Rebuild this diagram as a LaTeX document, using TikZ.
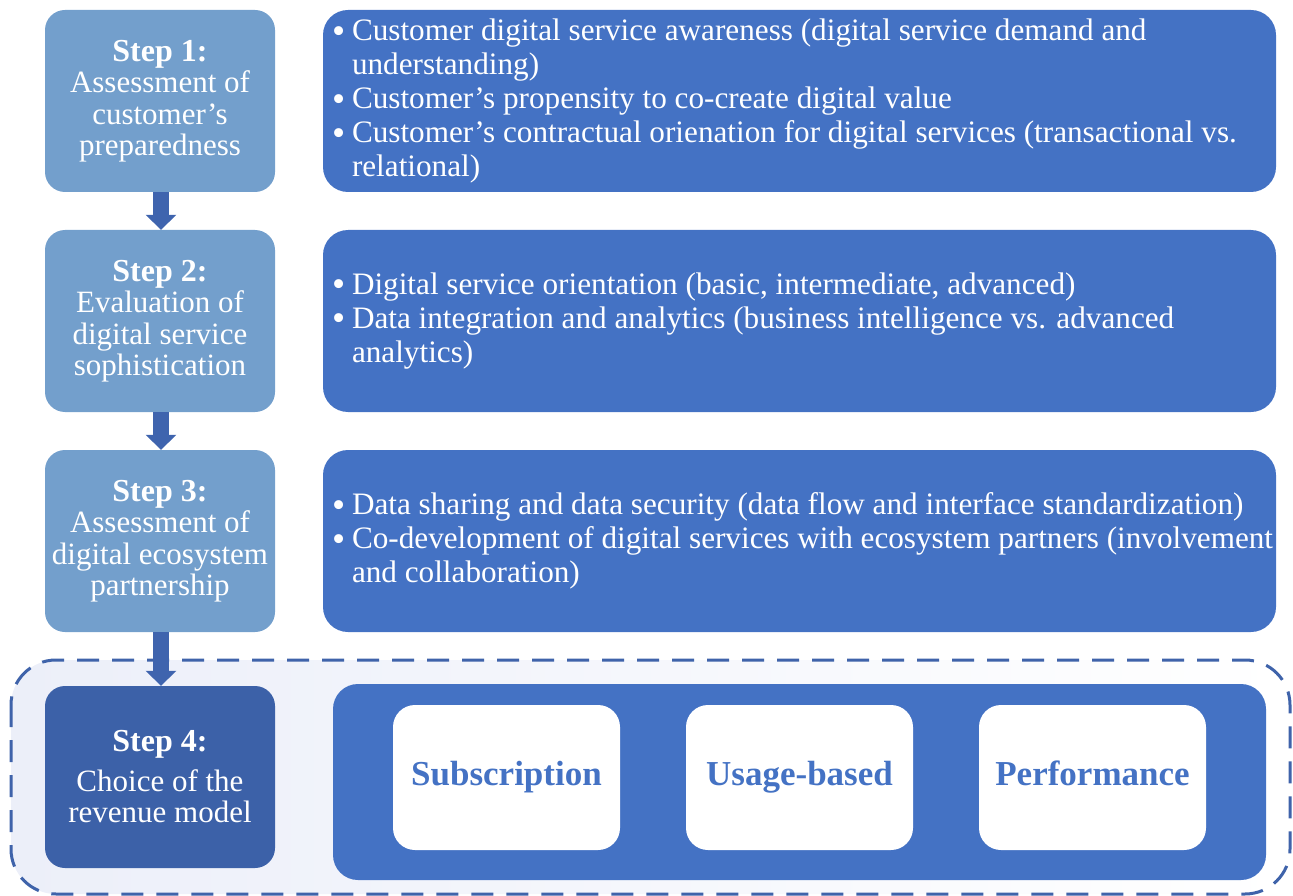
\documentclass[tikz,border=0pt]{standalone}
\usepackage{fontspec}
\setmainfont{Liberation Serif}
\usetikzlibrary{arrows.meta,shadings}
\definecolor{lightstep}{RGB}{115,159,204}
\definecolor{mainblue}{RGB}{68,114,196}
\definecolor{darkstep}{RGB}{60,97,168}
\definecolor{arrowblue}{RGB}{63,100,174}
\definecolor{dashblue}{RGB}{63,99,170}
\definecolor{lav}{RGB}{236,239,249}
\newcommand{\bul}{\makebox[20pt][l]{\raisebox{-2.5pt}{\scalebox{1.2}{\textbullet}}}}
\newcommand{\hang}{\hspace*{20pt}}
\newcommand{\steplbl}[1]{{\bfseries\fontsize{32}{32}\selectfont #1}}
\tikzset{
  stepbox/.style={rounded corners=20pt, fill=lightstep, minimum width=230pt, minimum height=182pt, inner sep=0pt, text=white, align=center, font=\fontsize{31}{31.5}\selectfont},
  infobox/.style={rounded corners=25pt, fill=mainblue, minimum width=953pt, minimum height=182pt, inner sep=0pt},
  bodytext/.style={text=white, align=left, inner sep=0pt, font=\fontsize{31.2}{34}\selectfont},
  modelbox/.style={rounded corners=22pt, fill=white, minimum width=227pt, minimum height=145pt, inner sep=0pt, text=mainblue, text height=24pt, text depth=8pt, font=\bfseries\fontsize{35}{36}\selectfont},
  flowarrow/.style={draw=arrowblue, line width=16pt, -{Triangle[width=30pt,length=15pt]}}
}
\begin{document}
\begin{tikzpicture}[x=1pt,y=-1pt]
\useasboundingbox (0,0) rectangle (1293,896);
% dashed container
\draw[dashblue, line width=3pt, dash pattern=on 22pt off 13pt, rounded corners=45pt, left color=lav, right color=white] (11,660) rectangle (1290,894);
% step boxes
\node[stepbox] (s1) at (160,101) {\steplbl{Step 1:}\\Assessment of\\customer’s\\preparedness};
\node[stepbox] (s2) at (160,321) {\steplbl{Step 2:}\\Evaluation of\\digital service\\sophistication};
\node[stepbox] (s3) at (160,541) {\steplbl{Step 3:}\\Assessment of\\digital ecosystem\\partnership};
\node[stepbox, fill=darkstep] (s4) at (160,777) {\steplbl{Step 4:}\\[8pt]Choice of the\\revenue model};
% info boxes
\node[infobox] (r1) at (799.5,101) {};
\node[infobox] (r2) at (799.5,321) {};
\node[infobox] (r3) at (799.5,541) {};
\node[infobox, minimum width=933pt, minimum height=196pt] (r4) at (799.5,782) {};
\node[bodytext, anchor=west] (t1) at ([xshift=9pt]r1.west) {\bul Customer digital service awareness (digital service demand and\\\hang understanding)\\\bul Customer’s propensity to co-create digital value\\\bul Customer’s contractual orienation for digital services (transactional vs.\\\hang relational)};
\node[bodytext, anchor=west] (t2) at ([xshift=9pt]r2.west) {\bul Digital service orientation (basic, intermediate, advanced)\\\bul Data integration and analytics (business intelligence vs. advanced\\\hang analytics)};
\node[bodytext, anchor=west] (t3) at ([xshift=9pt]r3.west) {\bul Data sharing and data security (data flow and interface standardization)\\\bul Co-development of digital services with ecosystem partners (involvement\\\hang and collaboration)};
% model boxes
\node[modelbox] (m1) at (506.5,777.5) {Subscription};
\node[modelbox] (m2) at (799.5,777.5) {Usage-based};
\node[modelbox] (m3) at (1092.5,777.5) {Performance};
% arrows
\draw[flowarrow] ([xshift=1pt]s1.south) -- ([xshift=1pt]s2.north);
\draw[flowarrow] ([xshift=1pt]s2.south) -- ([xshift=1pt]s3.north);
\draw[flowarrow] ([xshift=1pt]s3.south) -- ([xshift=1pt]s4.north);
\end{tikzpicture}
\end{document}
